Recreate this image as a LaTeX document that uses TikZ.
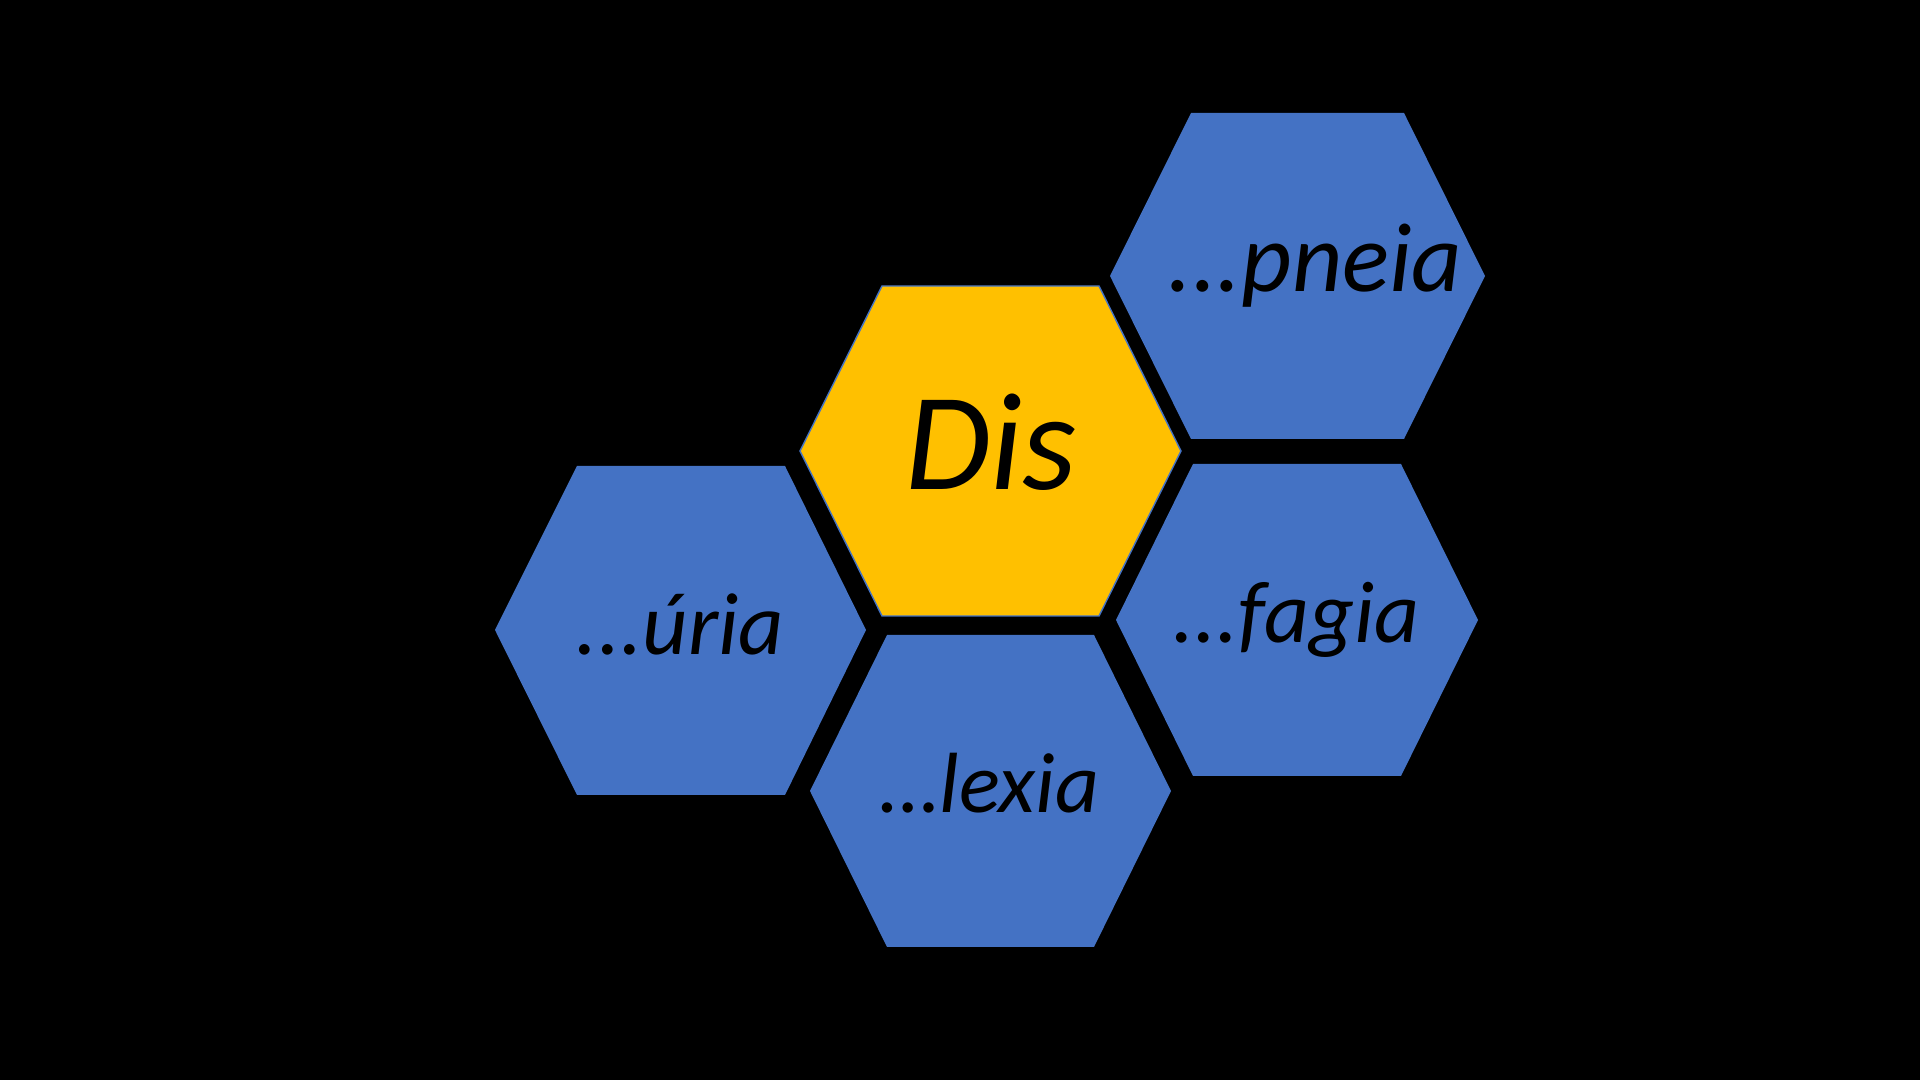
\documentclass[tikz,border=0pt]{standalone}
\usepackage{fontspec}
\setmainfont{Carlito}
\usepackage{tikz}
\usetikzlibrary{positioning}
\definecolor{hexblue}{HTML}{4472C4}
\definecolor{hexgold}{HTML}{FFC000}
\tikzset{
  bluehex/.style={fill=hexblue},
  goldhex/.style={fill=hexgold,draw=hexblue,line width=0.4pt},
  word/.style={anchor=base,inner sep=0pt,font=\itshape\fontsize{#1}{30}\selectfont},
  word/.default=27.9
}

\begin{document}
\begin{tikzpicture}[x=0.01cm,y=-0.01cm]
        \fill[black] (0,0) rectangle (1920,1080);
        \useasboundingbox (0,0) rectangle (1920,1080);
        % blue cells: top-left x, top-right x, left x, right x, top y, middle y, bottom y
        \foreach \xa/\xb/\xl/\xr/\ya/\ym/\yb in {
            1191/1404/1110/1485/113/276/439,
            577/785/495/866/466/630/795,
            1193/1401/1116/1478/464/620/776,
            887/1094/810/1171/635/791/947} {
          \fill[bluehex] (\xa,\ya) -- (\xb,\ya) -- (\xr,\ym) -- (\xb,\yb)
            -- (\xa,\yb) -- (\xl,\ym) -- cycle;
        }
        % centre cell
        \filldraw[goldhex] (882,286) -- (1099,286) -- (1181,451) -- (1099,616)
          -- (882,616) -- (800,451) -- cycle;
        \node[word=39.5] (dis) at (991,490) {Dis};
        \node[word] (pneia) at (1315,292) {...pneia};
        \node[word=25.1] (uria) at (680,655) {...úria};
        \node[word=24.9] (fagia) at (1296,643) {...fagia};
        \node[word=24.3] (lexia) at (990,813) {…lexia};
      \end{tikzpicture}
\end{document}
